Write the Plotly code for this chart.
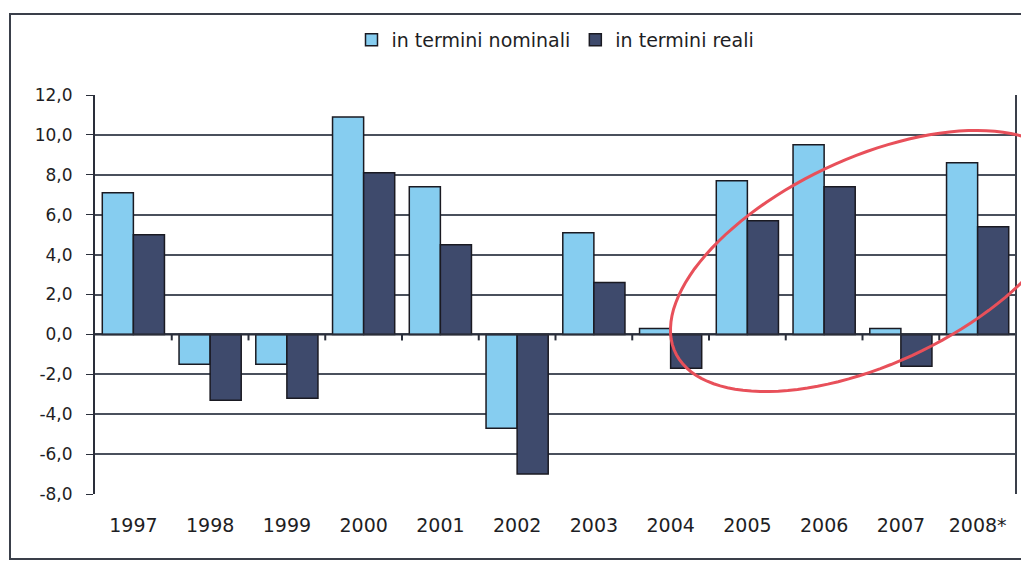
import numpy as np
import plotly.graph_objects as go

# data
years = ["1997", "1998", "1999", "2000", "2001", "2002",
         "2003", "2004", "2005", "2006", "2007", "2008*"]
nominali = [7.1, -1.5, -1.5, 10.9, 7.4, -4.7, 5.1, 0.3, 7.7, 9.5, 0.3, 8.6]
reali = [5.0, -3.3, -3.2, 8.1, 4.5, -7.0, 2.6, -1.7, 5.7, 7.4, -1.6, 5.4]

# y ticks, labelled with a plain hyphen as in the original
tick_vals = [-8, -6, -4, -2, 0, 2, 4, 6, 8, 10, 12]
tick_labels = ["-8,0", "-6,0", "-4,0", "-2,0", "0,0", "2,0",
               "4,0", "6,0", "8,0", "10,0", "12,0"]

# page offset of the plot div (body margin) and plot area in screen pixels
OFF = 8
W, H = 1029, 561
PX0, PX1, PY0, PY1 = 95, 1016, 95, 494
ML, MT = PX0 - OFF, PY0 - OFF
MR, MB = W - ML - (PX1 - PX0), H - MT - (PY1 - PY0)
PW, PH = PX1 - PX0, PY1 - PY0


def px_to_paper(x, y):
    # screen pixel -> paper coordinates
    return (x - PX0) / PW, (PY1 - y) / PH


fig = go.Figure()

fig.add_trace(go.Bar(
    x=years, y=nominali, name="in termini nominali",
    marker=dict(color="#86cdf0", line=dict(color="#1a1a22", width=1.5))
))
fig.add_trace(go.Bar(
    x=years, y=reali, name="in termini reali",
    marker=dict(color="#3e4a6c", line=dict(color="#1a1a22", width=1.5))
))

shapes = []

# zero line with small ticks between categories
shapes.append(dict(type="line", xref="paper", yref="y", x0=0, x1=1, y0=0, y1=0,
                   line=dict(color="#2a2e3a", width=2), layer="above"))
for i in range(len(years) - 1):
    shapes.append(dict(type="line", xref="x", yref="y", x0=i + 0.5, x1=i + 0.5,
                       y0=0, y1=-0.3, line=dict(color="#2a2e3a", width=2), layer="above"))

# outer frame of the scanned page
fx0, fy0 = px_to_paper(10, 14)
fx1, fy1 = px_to_paper(1045, 559)
shapes.append(dict(type="rect", xref="paper", yref="paper", x0=fx0, y0=fy0, x1=fx1, y1=fy1,
                   line=dict(color="#3a3f4a", width=2)))

# right border of plot area
shapes.append(dict(type="line", xref="paper", yref="paper", x0=1, x1=1, y0=0, y1=1,
                   line=dict(color="#3a3f4a", width=2)))

# red hand-drawn ellipse
cx, cy, a, b, th = 871, 261, 216, 103, np.radians(25)
t = np.linspace(0, 2 * np.pi, 120)
ex = cx + a * np.cos(t) * np.cos(th) + b * np.sin(t) * np.sin(th)
ey = cy - a * np.cos(t) * np.sin(th) + b * np.sin(t) * np.cos(th)
pts = [px_to_paper(x, y) for x, y in zip(ex, ey)]
path = "M " + " L ".join(f"{x:.4f},{y:.4f}" for x, y in pts) + " Z"
shapes.append(dict(type="path", xref="paper", yref="paper", path=path,
                   line=dict(color="#e8505a", width=3), layer="above"))

fig.update_layout(
    width=W, height=H,
    margin=dict(l=ML, r=MR, t=MT, b=MB),
    paper_bgcolor="white",
    plot_bgcolor="white",
    barmode="group",
    bargap=0.19,
    bargroupgap=0,
    font=dict(family="DejaVu Sans", size=17, color="#1e1e24"),
    legend=dict(
        orientation="h",
        x=0.5, xanchor="center",
        y=px_to_paper(0, 40)[1], yanchor="middle",
        font=dict(size=19),
        itemwidth=30,
        traceorder="normal"
    ),
    shapes=shapes,
    xaxis=dict(
        showgrid=False,
        ticks="outside", ticklen=14, tickcolor="rgba(0,0,0,0)",
        showline=False,
        tickfont=dict(size=19)
    ),
    yaxis=dict(
        range=[-8, 12],
        tickvals=tick_vals,
        ticktext=tick_labels,
        showgrid=True, gridcolor="#4a505c", gridwidth=2,
        zeroline=False,
        showline=True, linecolor="#2a2e3a", linewidth=2,
        ticks="outside", ticklen=7, tickcolor="#2a2e3a",
        ticklabelstandoff=10
    )
)

fig.write_html("out.html")
